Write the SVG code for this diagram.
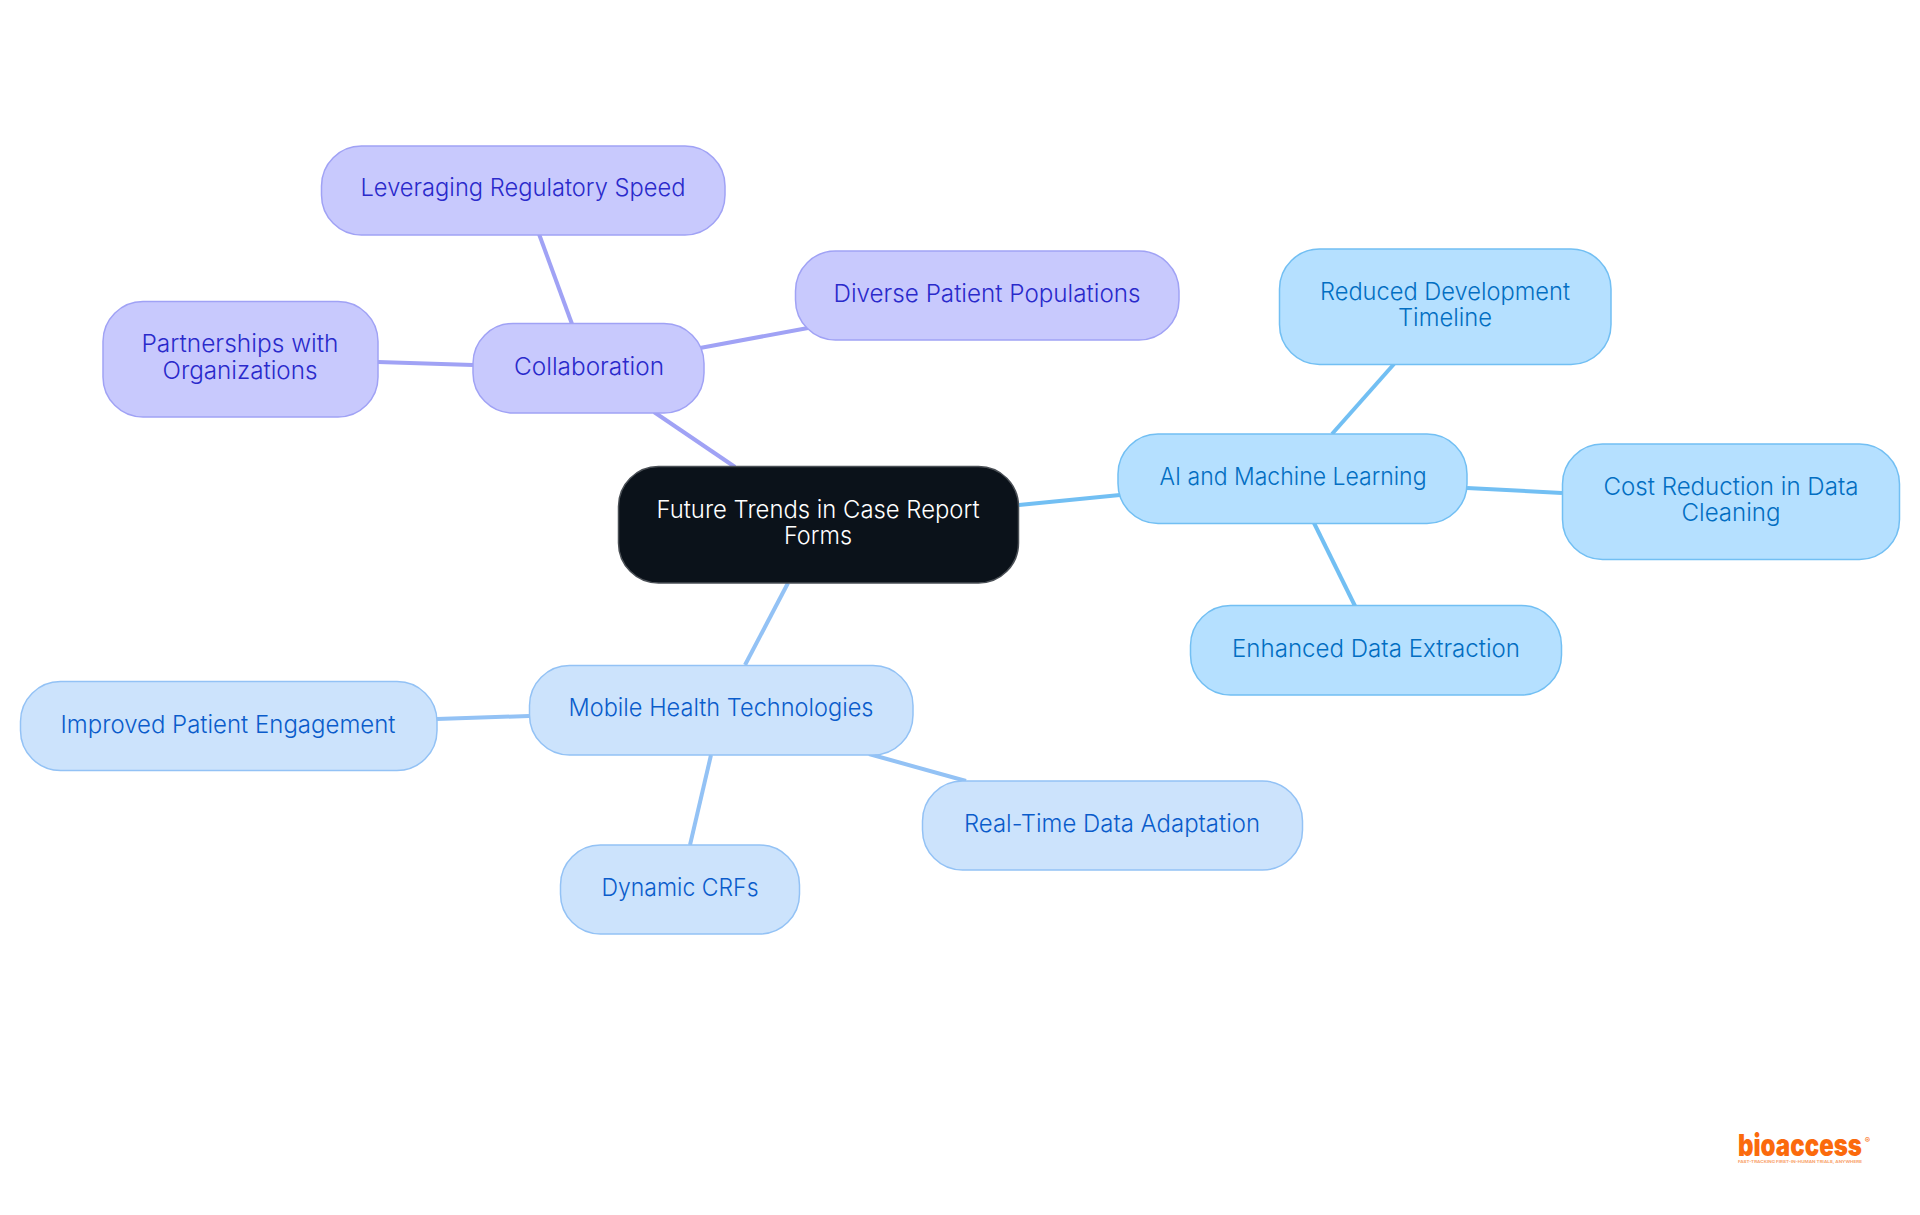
<svg xmlns="http://www.w3.org/2000/svg" width="1920" height="1215" viewBox="0 0 1920 1215">
<style>
text{font-family:"Inter","Noto Sans","Liberation Sans",sans-serif;font-size:24px;text-anchor:middle;font-weight:350}
.n{stroke-width:1.5}
.p rect{fill:#c8c9fd;stroke:#a0a2f5}.p text{fill:#2a2acb}
.b rect{fill:#cce3fc;stroke:#93c2f5}.b text{fill:#0a5ccb}
.s rect{fill:#b5e0ff;stroke:#72bff3}.s text{fill:#026ec2}
.r rect{fill:#0b121a;stroke:#4a4f55}.r text{fill:#fff}
#connectors line{stroke-width:4;fill:none}
</style>
<rect width="1920" height="1215" fill="#fff"/>
<g id="connectors">
<line x1="654" y1="412" x2="735" y2="467" stroke="#a0a2f5"/>
<line x1="572" y1="324" x2="539" y2="234" stroke="#a0a2f5"/>
<line x1="700" y1="348" x2="808" y2="328" stroke="#a0a2f5"/>
<line x1="473" y1="365" x2="378" y2="362" stroke="#a0a2f5"/>
<line x1="1019" y1="505" x2="1120" y2="495" stroke="#72bff3"/>
<line x1="1332" y1="434" x2="1394" y2="364" stroke="#72bff3"/>
<line x1="1467" y1="488" x2="1562" y2="493" stroke="#72bff3"/>
<line x1="1314" y1="523" x2="1355" y2="606" stroke="#72bff3"/>
<line x1="788" y1="583" x2="745" y2="665" stroke="#93c2f5"/>
<line x1="529" y1="716" x2="437" y2="719" stroke="#93c2f5"/>
<line x1="869" y1="754" x2="966" y2="781" stroke="#93c2f5"/>
<line x1="711" y1="755" x2="690" y2="845" stroke="#93c2f5"/>
</g>
<g id="root" class="n r"><rect x="618.500" y="466.500" width="400" height="116.500" rx="40"/><text x="818" y="518" textLength="323" lengthAdjust="spacingAndGlyphs">Future Trends in Case Report</text><text x="818" y="544" textLength="68" lengthAdjust="spacingAndGlyphs">Forms</text></g>
<g id="collaboration" class="n p"><rect x="473" y="323.500" width="231" height="89.500" rx="40"/><text x="589" y="375" textLength="150" lengthAdjust="spacingAndGlyphs">Collaboration</text></g>
<g id="leveraging" class="n p"><rect x="321.500" y="146" width="403.500" height="89" rx="40"/><text x="523" y="196" textLength="325" lengthAdjust="spacingAndGlyphs">Leveraging Regulatory Speed</text></g>
<g id="diverse" class="n p"><rect x="795.500" y="251" width="383.500" height="89" rx="40"/><text x="987" y="302" textLength="307" lengthAdjust="spacingAndGlyphs">Diverse Patient Populations</text></g>
<g id="partnerships" class="n p"><rect x="103" y="301.500" width="275" height="115.500" rx="40"/><text x="240" y="352" textLength="197" lengthAdjust="spacingAndGlyphs">Partnerships with</text><text x="240" y="379" textLength="155" lengthAdjust="spacingAndGlyphs">Organizations</text></g>
<g id="ai" class="n s"><rect x="1118" y="434" width="349" height="89.500" rx="40"/><text x="1293" y="485" textLength="267" lengthAdjust="spacingAndGlyphs">AI and Machine Learning</text></g>
<g id="reduced" class="n s"><rect x="1279.500" y="249" width="331.500" height="115.500" rx="40"/><text x="1445" y="300" textLength="250" lengthAdjust="spacingAndGlyphs">Reduced Development</text><text x="1445" y="326" textLength="94" lengthAdjust="spacingAndGlyphs">Timeline</text></g>
<g id="cost" class="n s"><rect x="1562.500" y="444" width="337" height="115.500" rx="40"/><text x="1731" y="495" textLength="255" lengthAdjust="spacingAndGlyphs">Cost Reduction in Data</text><text x="1731" y="521" textLength="99" lengthAdjust="spacingAndGlyphs">Cleaning</text></g>
<g id="enhanced" class="n s"><rect x="1190.500" y="605.500" width="371" height="89.500" rx="40"/><text x="1376" y="657" textLength="288" lengthAdjust="spacingAndGlyphs">Enhanced Data Extraction</text></g>
<g id="mobile" class="n b"><rect x="529.500" y="665.500" width="383.500" height="89.500" rx="40"/><text x="721" y="716" textLength="305" lengthAdjust="spacingAndGlyphs">Mobile Health Technologies</text></g>
<g id="improved" class="n b"><rect x="20.500" y="681.500" width="416.500" height="89" rx="40"/><text x="228" y="733" textLength="335" lengthAdjust="spacingAndGlyphs">Improved Patient Engagement</text></g>
<g id="realtime" class="n b"><rect x="922.500" y="781" width="380" height="89" rx="40"/><text x="1112" y="832" textLength="296" lengthAdjust="spacingAndGlyphs">Real-Time Data Adaptation</text></g>
<g id="dynamic" class="n b"><rect x="560.500" y="845" width="239" height="89" rx="40"/><text x="680" y="896" textLength="157" lengthAdjust="spacingAndGlyphs">Dynamic CRFs</text></g>
<g id="logo"><text x="1800" y="1156" style="font-size:30px;font-weight:900;fill:#fb6a0c" textLength="124" lengthAdjust="spacingAndGlyphs">bioaccess</text><text x="1867.500" y="1143" style="font-size:8px;font-weight:500;fill:#fb6a0c">®</text><text x="1800" y="1163" style="font-size:4px;font-weight:700;fill:#f9a36c" textLength="124" lengthAdjust="spacingAndGlyphs">FAST-TRACKING FIRST-IN-HUMAN TRIALS, ANYWHERE</text></g>
</svg>
